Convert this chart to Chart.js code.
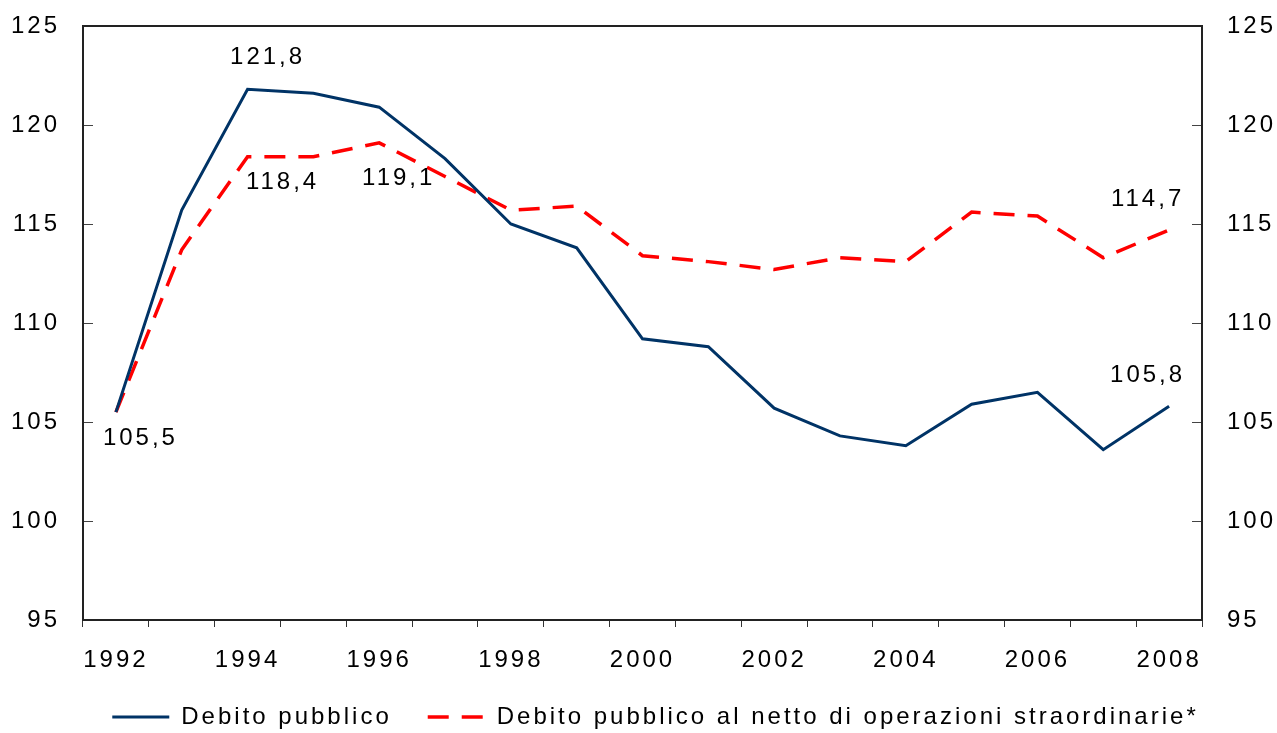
<!DOCTYPE html>
<html>
<head>
<meta charset="utf-8">
<script src="https://cdn.jsdelivr.net/npm/chart.js@4.4.1/dist/chart.umd.min.js"></script>
<style>
  html, body { margin: 0; padding: 0; background: #ffffff; }
  #c { display: block; }
</style>
</head>
<body>
<canvas id="c" width="1277" height="733"></canvas>
<script>
// ---- data ----
const years = ['1992','1993','1994','1995','1996','1997','1998','1999','2000','2001','2002','2003','2004','2005','2006','2007','2008'];
const debitoPubblico = [105.5, 115.7, 121.8, 121.6, 120.9, 118.3, 115.0, 113.8, 109.2, 108.8, 105.7, 104.3, 103.8, 105.9, 106.5, 103.6, 105.8];
const debitoNetto = [105.5, 113.7, 118.4, 118.4, 119.1, 117.4, 115.7, 115.9, 113.4, 113.1, 112.7, 113.3, 113.1, 115.6, 115.4, 113.3, 114.7];
const seriesNames = ['Debito pubblico', 'Debito pubblico al netto di operazioni straordinarie*'];
const yMin = 95, yMax = 125, yStep = 5;

// value labels: which dataset / point, and where to put the text relative to it
const valueLabels = [
  { ds: 0, i: 0,  dx: 23,  dy: 26 },
  { ds: 0, i: 2,  dx: 18.5, dy: -32 },
  { ds: 1, i: 2,  dx: 33.5, dy: 26 },
  { ds: 1, i: 4,  dx: 18,  dy: 36 },
  { ds: 1, i: 16, dx: -23, dy: -31 },
  { ds: 0, i: 16, dx: -23, dy: -30.5 }
];

const FONT = "'Liberation Sans', Arial, Helvetica, sans-serif";
const LS = 3; // letter spacing px

const spacingPlugin = {
  id: 'spacing',
  beforeUpdate(c) { c.ctx.letterSpacing = LS + 'px'; },
  beforeLayout(c) { c.ctx.letterSpacing = LS + 'px'; },
  beforeRender(c) { c.ctx.letterSpacing = LS + 'px'; },
  beforeDraw(c) { c.ctx.letterSpacing = LS + 'px'; }
};

const framePlugin = {
  id: 'frame',
  afterDraw(c) {
    const { ctx, chartArea: a } = c;
    const ys = c.scales.y;
    ctx.save();
    ctx.strokeStyle = '#444';
    ctx.lineWidth = 1;
    ys.ticks.forEach(t => {
      const py = Math.round(ys.getPixelForValue(t.value)) + 0.5;
      ctx.beginPath();
      ctx.moveTo(a.left, py); ctx.lineTo(a.left + 10, py);
      ctx.moveTo(a.right - 10, py); ctx.lineTo(a.right, py);
      ctx.stroke();
    });
    ctx.strokeStyle = '#222';
    ctx.lineWidth = 2;
    ctx.strokeRect(a.left, a.top, a.right - a.left, a.bottom - a.top);
    ctx.restore();
  }
};

const labelPlugin = {
  id: 'valueLabels',
  afterDatasetsDraw(c) {
    const ctx = c.ctx;
    ctx.save();
    ctx.letterSpacing = LS + 'px';
    ctx.font = '24px ' + FONT;
    ctx.fillStyle = '#000';
    ctx.textAlign = 'center';
    ctx.textBaseline = 'middle';
    valueLabels.forEach(l => {
      const pt = c.getDatasetMeta(l.ds).data[l.i];
      const v = c.data.datasets[l.ds].data[l.i];
      const txt = v.toFixed(1).replace('.', ',');
      ctx.fillText(txt, pt.x + l.dx + LS / 2, pt.y + l.dy);
    });
    ctx.restore();
  }
};

const tickFont = { family: FONT, size: 24 };
const PAD_RIGHT = -34;

new Chart(document.getElementById('c'), {
  type: 'line',
  data: {
    labels: years,
    datasets: [
      {
        label: seriesNames[0],
        data: debitoPubblico,
        borderColor: '#003366',
        backgroundColor: '#003366',
        borderWidth: 3,
        pointRadius: 0,
        tension: 0,
        fill: false,
        yAxisID: 'y'
      },
      {
        label: seriesNames[1],
        data: debitoNetto,
        borderColor: '#ff0000',
        backgroundColor: '#ff0000',
        borderWidth: 3.5,
        borderDash: [21, 13],
        pointRadius: 0,
        tension: 0,
        fill: false,
        yAxisID: 'y'
      }
    ]
  },
  options: {
    responsive: false,
    animation: false,
    devicePixelRatio: 1,
    layout: { padding: { left: 0, right: PAD_RIGHT, top: 26, bottom: -6 } },
    scales: {
      x: {
        type: 'category',
        offset: true,
        grid: { display: true, offset: true, drawOnChartArea: false, drawTicks: true, tickLength: 7, color: '#333', lineWidth: 1 },
        border: { display: false },
        ticks: {
          autoSkip: false, maxRotation: 0, minRotation: 0, padding: 19,
          font: tickFont, color: '#000',
          callback: function (val, i) { return i % 2 === 0 ? this.getLabelForValue(val) : ''; }
        },
        afterFit: s => { s.height = 49; s.paddingLeft = 0; s.paddingRight = 0; }
      },
      y: {
        position: 'left', min: yMin, max: yMax,
        grid: { display: false, drawTicks: false },
        border: { display: false },
        ticks: { stepSize: yStep, padding: 23, font: tickFont, color: '#000' },
        afterFit: s => { s.width = 83; s.paddingTop = 0; s.paddingBottom = 0; }
      },
      y2: {
        position: 'right', min: yMin, max: yMax,
        grid: { display: false, drawTicks: false },
        border: { display: false },
        ticks: { stepSize: yStep, padding: 25, font: tickFont, color: '#000' },
        afterFit: s => { s.width = 75 - PAD_RIGHT; s.paddingTop = 0; s.paddingBottom = 0; }
      }
    },
    plugins: {
      legend: {
        position: 'bottom',
        labels: {
          usePointStyle: true, pointStyle: 'line', pointStyleWidth: 57,
          padding: 36, font: { family: FONT, size: 24 }, color: '#000',
          generateLabels(chart) {
            const items = Chart.defaults.plugins.legend.labels.generateLabels(chart);
            items.forEach(it => {
              const ds = chart.data.datasets[it.datasetIndex];
              it.lineDash = ds.borderDash || [];
              it.lineWidth = ds.borderWidth;
              it.strokeStyle = ds.borderColor;
              it.pointStyle = 'line';
            });
            return items;
          }
        }
      },
      tooltip: { enabled: false }
    }
  },
  plugins: [spacingPlugin, framePlugin, labelPlugin]
});
</script>
</body>
</html>
